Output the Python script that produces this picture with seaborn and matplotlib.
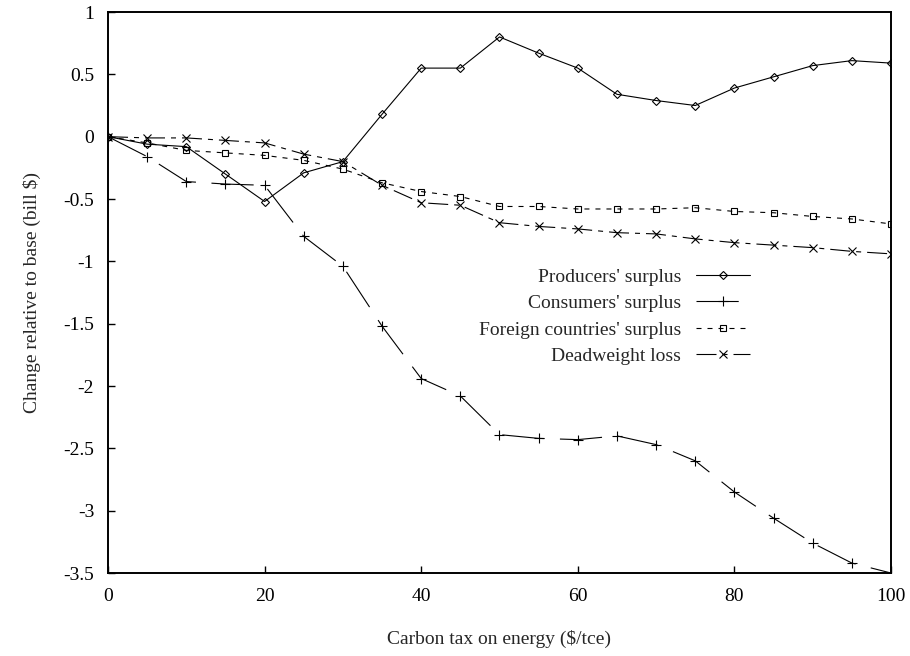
# plot.py - welfare change vs carbon tax (gnuplot-like look)

import pandas as pd
import seaborn as sns
import matplotlib
matplotlib.use("Agg")
import matplotlib.pyplot as plt
from matplotlib.ticker import FuncFormatter

# carbon tax levels ($/tce)
tax = [0, 5, 10, 15, 20, 25, 30, 35, 40, 45, 50,
       55, 60, 65, 70, 75, 80, 85, 90, 95, 100]

# change relative to base (bill $)
producers = [0, -0.06, -0.08, -0.30, -0.52, -0.29, -0.20, 0.18, 0.55, 0.55, 0.80,
             0.67, 0.55, 0.34, 0.29, 0.25, 0.39, 0.48, 0.57, 0.61, 0.59]
consumers = [0, -0.16, -0.36, -0.38, -0.39, -0.80, -1.04, -1.52, -1.94, -2.08, -2.39,
             -2.42, -2.43, -2.40, -2.47, -2.60, -2.85, -3.06, -3.26, -3.42, -3.50]
foreign = [0, -0.05, -0.11, -0.13, -0.15, -0.19, -0.26, -0.37, -0.44, -0.48, -0.56,
           -0.56, -0.58, -0.58, -0.58, -0.57, -0.60, -0.61, -0.64, -0.66, -0.70]
deadweight = [0, -0.01, -0.01, -0.03, -0.05, -0.14, -0.20, -0.39, -0.53, -0.55, -0.69,
              -0.72, -0.74, -0.77, -0.78, -0.82, -0.85, -0.87, -0.89, -0.92, -0.94]

series_names = ["Producers' surplus", "Consumers' surplus",
                "Foreign countries' surplus", "Deadweight loss"]

df = pd.DataFrame({"tax": tax,
                   series_names[0]: producers,
                   series_names[1]: consumers,
                   series_names[2]: foreign,
                   series_names[3]: deadweight})

sns.set_style("ticks")
plt.rcParams["font.family"] = ["Liberation Serif", "DejaVu Serif"]
plt.rcParams["axes.unicode_minus"] = False

fig = plt.figure(figsize=(9.1, 6.56), dpi=100)
ax = fig.add_axes([0.1187, 0.1265, 0.8604, 0.8552])

# one style per series: marker, line pattern
styles = {
    series_names[0]: dict(marker="D", markersize=4, linestyle="-"),
    series_names[1]: dict(marker="+", markersize=7, linestyle=(0, (38, 14))),
    series_names[2]: dict(marker="s", markersize=4.5, linestyle=(0, (4.5, 5.4))),
    series_names[3]: dict(marker="x", markersize=6, linestyle=(0, (18, 5.4, 4.5, 5.4))),
}

for name in series_names:
    sns.lineplot(data=df, x="tax", y=name, ax=ax, label=name, color="black",
                 linewidth=0.8, markerfacecolor="none", markeredgecolor="black",
                 markeredgewidth=0.8, **styles[name])

ax.set_xlim(0, 100)
ax.set_ylim(-3.5, 1)
ax.set_xticks([0, 20, 40, 60, 80, 100])
ax.set_yticks([1, 0.5, 0, -0.5, -1, -1.5, -2, -2.5, -3, -3.5])
ax.yaxis.set_major_formatter(FuncFormatter(lambda v, p: "%g" % v))
ax.tick_params(direction="in", length=5, width=1, labelsize=14, colors="black")
ax.tick_params(axis="x", pad=11)
ax.tick_params(axis="y", pad=10)
for s in ["left", "bottom", "top", "right"]:
    ax.spines[s].set_visible(True)
    ax.spines[s].set_linewidth(1.4)
    ax.spines[s].set_color("black")

ax.set_xlabel("Carbon tax on energy ($/tce)", fontsize=14, labelpad=18)
ax.set_ylabel("Change relative to base (bill $)", fontsize=14, labelpad=16)

ax.legend(loc="upper right", bbox_to_anchor=(750 / 910, 1 - 268 / 656),
          bbox_transform=fig.transFigure, frameon=False, markerfirst=False,
          fontsize=14, handlelength=2.8, handletextpad=0.75, labelspacing=0.46,
          borderpad=0, borderaxespad=0, numpoints=1)

fig.savefig("out.png", dpi=100)
